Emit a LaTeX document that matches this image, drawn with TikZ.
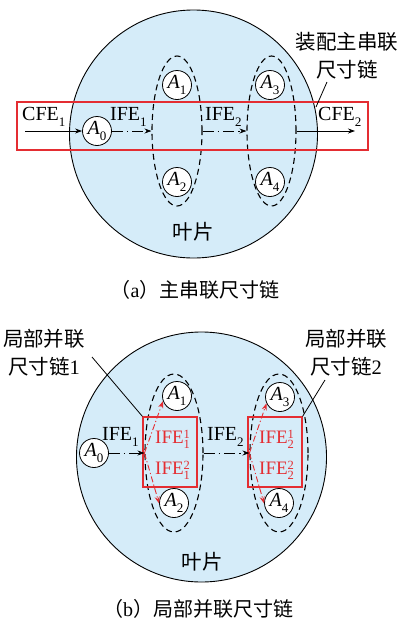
\documentclass[tikz,border=0pt]{standalone}
\usepackage{fontspec}
\setmainfont{Liberation Serif}
\newfontfamily\cjk{Noto Sans CJK SC}
\usetikzlibrary{arrows.meta,shapes.geometric}
\definecolor{leafblue}{RGB}{213,236,249}
\definecolor{myred}{RGB}{228,45,50}
\newcommand\sub[1]{\raisebox{-0.3em}{\fontsize{13}{13}\selectfont #1}}
\newcommand\supsub[2]{\raisebox{-0.3em}{\fontsize{12.5}{13}\selectfont\makebox[0pt][l]{\raisebox{0.85em}{#1}}#2}}
\tikzset{
  big/.style={font=\fontsize{20}{24}\selectfont, inner sep=0pt},
  redtext/.style={font=\fontsize{19}{24}\selectfont, inner sep=0pt, text=myred},
  cjktext/.style={font=\fontsize{20.5}{28}\selectfont\cjk, inner sep=0pt, align=center},
  leaf/.style={circle, draw, fill=leafblue, line width=0.9pt, inner sep=0pt},
  anode/.style={circle, draw, fill=white, minimum size=29pt, inner sep=0pt, line width=0.8pt, font=\fontsize{20}{24}\selectfont},
  grp/.style={ellipse, draw, line width=1.1pt, dash pattern=on 6pt off 4pt, inner sep=0pt},
  redbox/.style={draw=myred, line width=1.1pt, inner sep=0pt},
  arr/.style={-{Stealth[length=7pt,width=5pt]}, line width=0.8pt},
  dd/.style={arr, dash pattern=on 11pt off 4pt on 1.5pt off 4pt},
  rdd/.style={draw=myred, -{Stealth[length=7pt,width=5pt]}, line width=0.9pt, dash pattern=on 6pt off 2.5pt on 1.2pt off 2.5pt},
  leader/.style={line width=0.8pt},
}
\begin{document}
\begin{tikzpicture}[x=1pt,y=-1pt]
\useasboundingbox (0,0) rectangle (412,622);
% ---------------- (a)
\node[leaf, minimum size=248pt] (leafA) at (193.5,134) {};
\node[grp, minimum width=50pt, minimum height=150pt] (ga1) at (177,131) {};
\node[grp, minimum width=49pt, minimum height=150pt] (ga2) at (271.5,131) {};
\node[anode] (a0) at (97,131) {\textit{A}\sub{0}};
\node[anode] (a1) at (177,85) {\textit{A}\sub{1}};
\node[anode] (a2) at (177,182) {\textit{A}\sub{2}};
\node[anode] (a3) at (270,85) {\textit{A}\sub{3}};
\node[anode] (a4) at (270,182) {\textit{A}\sub{4}};
\coordinate (cfeS) at (25,131);
\coordinate (cfeE) at (355,131);
\draw[arr] (cfeS) -- (a0);
\draw[dd] (a0) -- (ga1.west);
\draw[dd] (ga1.east) -- (ga2.west);
\draw[arr] (ga2.east) -- (cfeE);
\node[big, anchor=base west] (tcfe1) at (22,120) {CFE\sub{1}};
\node[big, anchor=base west] (tife1) at (110,120) {IFE\sub{1}};
\node[big, anchor=base west] (tife2) at (205,120) {IFE\sub{2}};
\node[big, anchor=base west] (tcfe2) at (318,120) {CFE\sub{2}};
\node[redbox, minimum width=351pt, minimum height=48pt] (ra) at (192.5,126) {};
\node[cjktext] (laba) at (347,56) {装配主串联\\尺寸链};
\coordinate (la1) at (327,82);
\coordinate (la2) at (316,107);
\draw[leader] (la1) -- (la2);
\node[cjktext] (yea) at (193,232) {叶片};
\node[font=\fontsize{20}{24}\selectfont, inner sep=0pt] (capa) at (195,290) {{\cjk （}a{\cjk ）主串联尺寸链}};
% ---------------- (b)
\node[leaf, minimum size=250pt] (leafB) at (201.5,457) {};
\node[grp, minimum width=58pt, minimum height=158pt] (gb1) at (174,453) {};
\node[grp, minimum width=58pt, minimum height=158pt] (gb2) at (279,453) {};
\node[redbox, minimum width=54pt, minimum height=70pt] (rb1) at (170,452) {};
\node[redbox, minimum width=54pt, minimum height=70pt] (rb2) at (275,452) {};
\node[anode] (b0) at (94,453) {\textit{A}\sub{0}};
\node[anode] (b1) at (177,396) {\textit{A}\sub{1}};
\node[anode] (b2) at (174,503) {\textit{A}\sub{2}};
\node[anode] (b3) at (280,397) {\textit{A}\sub{3}};
\node[anode] (b4) at (279,503) {\textit{A}\sub{4}};
\draw[dd] (b0) -- (gb1.west);
\draw[dd] (gb1.east) -- (gb2.west);
\draw[rdd] (gb1.west) -- (b1.200);
\draw[rdd] (gb1.west) -- (b2.182);
\draw[rdd] (gb2.west) -- (b3.205);
\draw[rdd] (gb2.west) -- (b4.182);
\node[big, anchor=base west] (bife1) at (102,440) {IFE\sub{1}};
\node[big, anchor=base west] (bife2) at (207,440) {IFE\sub{2}};
\node[redtext, anchor=base west] (r11) at (155,443) {IFE\supsub{1}{1}};
\node[redtext, anchor=base west] (r12) at (155,474) {IFE\supsub{2}{1}};
\node[redtext, anchor=base west] (r21) at (259,443) {IFE\supsub{1}{2}};
\node[redtext, anchor=base west] (r22) at (259,474) {IFE\supsub{2}{2}};
\node[cjktext] (labb1) at (44,353) {局部并联\\尺寸链{\rmfamily 1}};
\node[cjktext] (labb2) at (346,353) {局部并联\\尺寸链{\rmfamily 2}};
\coordinate (lb1) at (92,357);
\coordinate (lb2) at (325,380);
\draw[leader] (lb1) -- (rb1.north west);
\draw[leader] (lb2) -- (rb2.north east);
\node[cjktext] (yeb) at (202,562) {叶片};
\node[font=\fontsize{20}{24}\selectfont, inner sep=0pt] (capb) at (198,609) {{\cjk （}b{\cjk ）局部并联尺寸链}};
\end{tikzpicture}
\end{document}
